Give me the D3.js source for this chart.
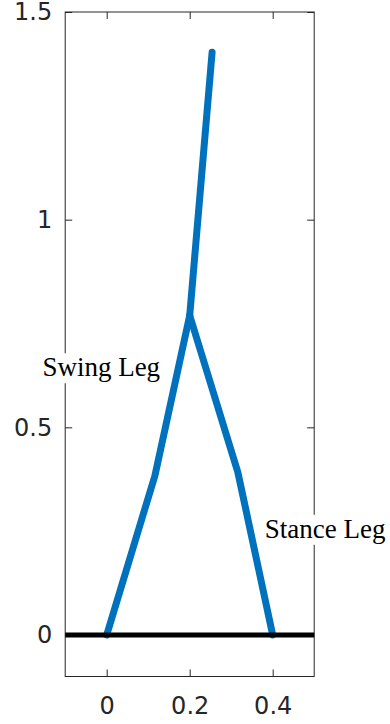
<!DOCTYPE html>
<html>
<head>
<meta charset="utf-8">
<script src="https://cdn.jsdelivr.net/npm/d3@7"></script>
<style>
  html, body { margin: 0; padding: 0; background: #fff; }
  svg { display: block; }
</style>
</head>
<body>
<svg id="chart" width="390" height="724"></svg>
<script>
// Walker pose: joint coordinates (foot -> knee -> hip)
const swingLegX = [0, 0.116, 0.2];
const swingLegY = [0, 0.383, 0.769];
const stanceLegX = [0.2, 0.316, 0.4];
const stanceLegY = [0.769, 0.392, 0];
const torsoX = [0.2, 0.254];
const torsoY = [0.769, 1.403];
const groundX = [-0.1, 0.5];
const groundY = [0, 0];

// Axis limits and ticks
const xDomain = [-0.1, 0.5];
const yDomain = [-0.1, 1.5];
const xTicks = [0, 0.2, 0.4];
const yTicks = [0, 0.5, 1, 1.5];
const xTickLabels = ["0", "0.2", "0.4"];
const yTickLabels = ["0", "0.5", "1", "1.5"];

// Text annotations (data coordinates of the left end of the baseline)
const labelText = ["Swing Leg", "Stance Leg"];
const labelX = [-0.155, 0.381];
const labelY = [0.623, 0.234];

const plotLeft = 65.2, plotRight = 314.2, plotTop = 12, plotBottom = 676.5;
const x = d3.scaleLinear().domain(xDomain).range([plotLeft, plotRight]);
const y = d3.scaleLinear().domain(yDomain).range([plotBottom, plotTop]);

const svg = d3.select("#chart");
const axisColor = "#262626";
const tickFont = "DejaVu Sans, sans-serif";

// Box
svg.append("rect")
  .attr("x", plotLeft).attr("y", plotTop)
  .attr("width", plotRight - plotLeft).attr("height", plotBottom - plotTop)
  .attr("fill", "none").attr("stroke", axisColor).attr("stroke-width", 1);

// Inward ticks on all four sides
const tickLen = 7;
const axB = d3.axisBottom(x).tickValues(xTicks).tickSizeInner(-tickLen).tickSizeOuter(0)
  .tickFormat((d, i) => xTickLabels[i]).tickPadding(20);
const axT = d3.axisTop(x).tickValues(xTicks).tickSizeInner(-tickLen).tickSizeOuter(0).tickFormat("");
const axL = d3.axisLeft(y).tickValues(yTicks).tickSizeInner(-tickLen).tickSizeOuter(0)
  .tickFormat((d, i) => yTickLabels[i]).tickPadding(13);
const axR = d3.axisRight(y).tickValues(yTicks).tickSizeInner(-tickLen).tickSizeOuter(0).tickFormat("");

function style(g) {
  g.select(".domain").remove();
  g.selectAll("line").attr("stroke", axisColor);
  g.selectAll("text").attr("fill", axisColor).attr("font-family", tickFont).attr("font-size", 24);
}
svg.append("g").attr("transform", `translate(0,${plotBottom})`).call(axB).call(style);
svg.append("g").attr("transform", `translate(0,${plotTop})`).call(axT).call(style);
svg.append("g").attr("transform", `translate(${plotLeft},0)`).call(axL).call(style);
svg.append("g").attr("transform", `translate(${plotRight},0)`).call(axR).call(style);

// Walker segments
const line = d3.line().x(d => x(d[0])).y(d => y(d[1]));
const zip = (xs, ys) => xs.map((v, i) => [v, ys[i]]);
const blue = "#0072BD";
[[swingLegX, swingLegY], [stanceLegX, stanceLegY], [torsoX, torsoY]].forEach(([xs, ys]) => {
  svg.append("path")
    .attr("d", line(zip(xs, ys)))
    .attr("fill", "none").attr("stroke", blue).attr("stroke-width", 7)
    .attr("stroke-linecap", "round").attr("stroke-linejoin", "round");
});

// Ground
svg.append("path")
  .attr("d", line(zip(groundX, groundY)))
  .attr("fill", "none").attr("stroke", "#000").attr("stroke-width", 5);

// Annotations with white backgrounds
labelText.forEach((t, i) => {
  const g = svg.append("g");
  const bg = g.append("rect").attr("fill", "#fff");
  const txt = g.append("text")
    .attr("x", x(labelX[i])).attr("y", y(labelY[i]))
    .attr("font-family", "Liberation Serif, serif")
    .attr("font-size", 27).attr("fill", "#000")
    .text(t);
  const b = txt.node().getBBox();
  bg.attr("x", b.x - 2).attr("y", b.y + 1).attr("width", b.width + 4).attr("height", b.height);
});
</script>
</body>
</html>
